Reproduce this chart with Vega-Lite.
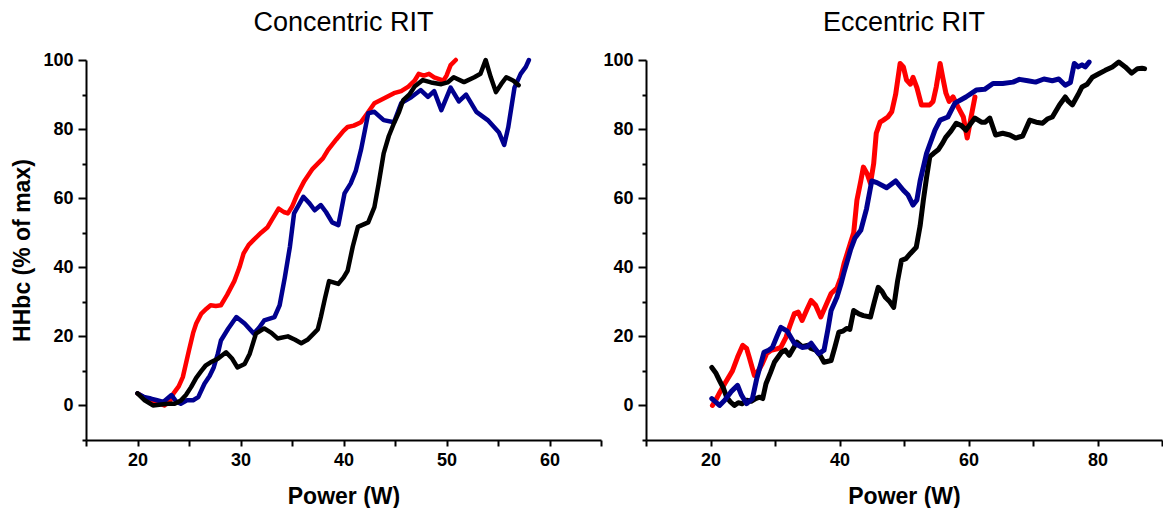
{
  "$schema": "https://vega.github.io/schema/vega-lite/v6.json",
  "padding": {"left": 11, "top": 9, "right": 0, "bottom": 0},
  "spacing": 0,
  "config": {
    "view": {"stroke": null},
    "font": "Liberation Sans",
    "axis": {
      "grid": false,
      "domainColor": "#000000",
      "domainWidth": 2,
      "tickColor": "#000000",
      "tickWidth": 2,
      "labelFont": "Liberation Sans",
      "labelFontWeight": "bold",
      "labelFontSize": 18,
      "labelColor": "#000000",
      "titleFont": "Liberation Sans",
      "titleFontWeight": "bold",
      "titleFontSize": 23,
      "titleColor": "#000000"
    },
    "title": {"font": "Liberation Sans", "fontSize": 27, "fontWeight": "normal", "color": "#000000", "offset": 14}
  },
  "datasets": {
    "pts": [
      {"panel":"C","series":"r","power":20.0,"hhbc":3.5},{"panel":"C","series":"r","power":20.8,"hhbc":2},{"panel":"C","series":"r","power":21.7,"hhbc":1},{"panel":"C","series":"r","power":22.6,"hhbc":0},{"panel":"C","series":"r","power":23.2,"hhbc":1.5},{"panel":"C","series":"r","power":23.5,"hhbc":3.5},{"panel":"C","series":"r","power":24.0,"hhbc":5.5},{"panel":"C","series":"r","power":24.4,"hhbc":8.2},{"panel":"C","series":"r","power":25.0,"hhbc":16},{"panel":"C","series":"r","power":25.4,"hhbc":21},{"panel":"C","series":"r","power":25.7,"hhbc":23.7},{"panel":"C","series":"r","power":26.2,"hhbc":26.6},{"panel":"C","series":"r","power":26.7,"hhbc":28},{"panel":"C","series":"r","power":27.1,"hhbc":29},{"panel":"C","series":"r","power":27.6,"hhbc":28.8},{"panel":"C","series":"r","power":28.1,"hhbc":29},{"panel":"C","series":"r","power":28.7,"hhbc":32},{"panel":"C","series":"r","power":29.4,"hhbc":36},{"panel":"C","series":"r","power":29.9,"hhbc":40},{"panel":"C","series":"r","power":30.3,"hhbc":44},{"panel":"C","series":"r","power":30.8,"hhbc":46.5},{"panel":"C","series":"r","power":31.3,"hhbc":48},{"panel":"C","series":"r","power":32.0,"hhbc":50},{"panel":"C","series":"r","power":32.6,"hhbc":51.5},{"panel":"C","series":"r","power":33.0,"hhbc":53.5},{"panel":"C","series":"r","power":33.7,"hhbc":57},{"panel":"C","series":"r","power":34.2,"hhbc":56},{"panel":"C","series":"r","power":34.6,"hhbc":55.6},{"panel":"C","series":"r","power":35.0,"hhbc":57.5},{"panel":"C","series":"r","power":35.5,"hhbc":61},{"panel":"C","series":"r","power":36.2,"hhbc":65},{"panel":"C","series":"r","power":37.0,"hhbc":68.5},{"panel":"C","series":"r","power":38.0,"hhbc":71.5},{"panel":"C","series":"r","power":38.5,"hhbc":74},{"panel":"C","series":"r","power":39.3,"hhbc":77},{"panel":"C","series":"r","power":40.0,"hhbc":79.5},{"panel":"C","series":"r","power":40.4,"hhbc":80.6},{"panel":"C","series":"r","power":41.0,"hhbc":81},{"panel":"C","series":"r","power":41.7,"hhbc":82},{"panel":"C","series":"r","power":42.3,"hhbc":84.5},{"panel":"C","series":"r","power":43.0,"hhbc":87.5},{"panel":"C","series":"r","power":44.0,"hhbc":89},{"panel":"C","series":"r","power":44.9,"hhbc":90.4},{"panel":"C","series":"r","power":45.6,"hhbc":91},{"panel":"C","series":"r","power":46.3,"hhbc":92.3},{"panel":"C","series":"r","power":46.9,"hhbc":94},{"panel":"C","series":"r","power":47.3,"hhbc":96},{"panel":"C","series":"r","power":47.8,"hhbc":95.5},{"panel":"C","series":"r","power":48.3,"hhbc":96},{"panel":"C","series":"r","power":48.8,"hhbc":95},{"panel":"C","series":"r","power":49.7,"hhbc":94},{"panel":"C","series":"r","power":50.0,"hhbc":95.5},{"panel":"C","series":"r","power":50.4,"hhbc":98.5},{"panel":"C","series":"r","power":50.9,"hhbc":100},
      {"panel":"C","series":"b","power":20.0,"hhbc":3.5},{"panel":"C","series":"b","power":20.6,"hhbc":2.5},{"panel":"C","series":"b","power":21.3,"hhbc":2},{"panel":"C","series":"b","power":21.9,"hhbc":1.5},{"panel":"C","series":"b","power":22.5,"hhbc":1},{"panel":"C","series":"b","power":23.3,"hhbc":3},{"panel":"C","series":"b","power":23.8,"hhbc":1},{"panel":"C","series":"b","power":24.2,"hhbc":0.5},{"panel":"C","series":"b","power":24.8,"hhbc":1.5},{"panel":"C","series":"b","power":25.4,"hhbc":1.5},{"panel":"C","series":"b","power":25.9,"hhbc":2.4},{"panel":"C","series":"b","power":26.5,"hhbc":6.3},{"panel":"C","series":"b","power":27.0,"hhbc":8.5},{"panel":"C","series":"b","power":27.4,"hhbc":11},{"panel":"C","series":"b","power":27.8,"hhbc":15},{"panel":"C","series":"b","power":28.1,"hhbc":18.8},{"panel":"C","series":"b","power":28.8,"hhbc":22.2},{"panel":"C","series":"b","power":29.6,"hhbc":25.6},{"panel":"C","series":"b","power":30.4,"hhbc":23.7},{"panel":"C","series":"b","power":31.3,"hhbc":20.8},{"panel":"C","series":"b","power":31.8,"hhbc":22.5},{"panel":"C","series":"b","power":32.3,"hhbc":24.6},{"panel":"C","series":"b","power":33.3,"hhbc":25.6},{"panel":"C","series":"b","power":33.8,"hhbc":29},{"panel":"C","series":"b","power":34.3,"hhbc":37},{"panel":"C","series":"b","power":34.8,"hhbc":46},{"panel":"C","series":"b","power":35.2,"hhbc":55.6},{"panel":"C","series":"b","power":36.1,"hhbc":60.4},{"panel":"C","series":"b","power":36.7,"hhbc":58.5},{"panel":"C","series":"b","power":37.2,"hhbc":56.5},{"panel":"C","series":"b","power":37.8,"hhbc":58},{"panel":"C","series":"b","power":38.3,"hhbc":56},{"panel":"C","series":"b","power":38.9,"hhbc":53},{"panel":"C","series":"b","power":39.5,"hhbc":52.2},{"panel":"C","series":"b","power":40.1,"hhbc":61.4},{"panel":"C","series":"b","power":40.7,"hhbc":64.3},{"panel":"C","series":"b","power":41.2,"hhbc":68},{"panel":"C","series":"b","power":41.7,"hhbc":74},{"panel":"C","series":"b","power":42.1,"hhbc":80},{"panel":"C","series":"b","power":42.4,"hhbc":84.6},{"panel":"C","series":"b","power":43.0,"hhbc":85},{"panel":"C","series":"b","power":43.9,"hhbc":82.6},{"panel":"C","series":"b","power":44.9,"hhbc":82},{"panel":"C","series":"b","power":45.6,"hhbc":87.5},{"panel":"C","series":"b","power":46.6,"hhbc":89.3},{"panel":"C","series":"b","power":47.5,"hhbc":91.3},{"panel":"C","series":"b","power":48.2,"hhbc":89.3},{"panel":"C","series":"b","power":48.8,"hhbc":91},{"panel":"C","series":"b","power":49.5,"hhbc":85.5},{"panel":"C","series":"b","power":50.4,"hhbc":92},{"panel":"C","series":"b","power":51.2,"hhbc":88},{"panel":"C","series":"b","power":51.9,"hhbc":90},{"panel":"C","series":"b","power":52.9,"hhbc":85},{"panel":"C","series":"b","power":54.0,"hhbc":82.6},{"panel":"C","series":"b","power":55.1,"hhbc":79},{"panel":"C","series":"b","power":55.6,"hhbc":75.4},{"panel":"C","series":"b","power":56.0,"hhbc":80.6},{"panel":"C","series":"b","power":56.6,"hhbc":92},{"panel":"C","series":"b","power":57.2,"hhbc":96},{"panel":"C","series":"b","power":57.7,"hhbc":98},{"panel":"C","series":"b","power":58.0,"hhbc":100},
      {"panel":"C","series":"k","power":20.0,"hhbc":3.5},{"panel":"C","series":"k","power":20.7,"hhbc":1.5},{"panel":"C","series":"k","power":21.5,"hhbc":0},{"panel":"C","series":"k","power":22.3,"hhbc":0.3},{"panel":"C","series":"k","power":23.0,"hhbc":0.5},{"panel":"C","series":"k","power":23.6,"hhbc":0.5},{"panel":"C","series":"k","power":24.2,"hhbc":1.4},{"panel":"C","series":"k","power":24.7,"hhbc":3},{"panel":"C","series":"k","power":25.2,"hhbc":5.3},{"panel":"C","series":"k","power":25.7,"hhbc":8},{"panel":"C","series":"k","power":26.2,"hhbc":10},{"panel":"C","series":"k","power":26.6,"hhbc":11.5},{"panel":"C","series":"k","power":27.1,"hhbc":12.5},{"panel":"C","series":"k","power":27.8,"hhbc":13.5},{"panel":"C","series":"k","power":28.6,"hhbc":15.4},{"panel":"C","series":"k","power":29.2,"hhbc":13.5},{"panel":"C","series":"k","power":29.7,"hhbc":11},{"panel":"C","series":"k","power":30.4,"hhbc":12},{"panel":"C","series":"k","power":30.9,"hhbc":15},{"panel":"C","series":"k","power":31.5,"hhbc":20.8},{"panel":"C","series":"k","power":32.3,"hhbc":22.3},{"panel":"C","series":"k","power":33.0,"hhbc":21},{"panel":"C","series":"k","power":33.6,"hhbc":19.4},{"panel":"C","series":"k","power":34.6,"hhbc":20},{"panel":"C","series":"k","power":35.3,"hhbc":19},{"panel":"C","series":"k","power":35.9,"hhbc":18},{"panel":"C","series":"k","power":36.5,"hhbc":19},{"panel":"C","series":"k","power":37.1,"hhbc":20.8},{"panel":"C","series":"k","power":37.5,"hhbc":22},{"panel":"C","series":"k","power":37.8,"hhbc":25.6},{"panel":"C","series":"k","power":38.2,"hhbc":31},{"panel":"C","series":"k","power":38.6,"hhbc":36},{"panel":"C","series":"k","power":39.5,"hhbc":35.2},{"panel":"C","series":"k","power":40.0,"hhbc":37},{"panel":"C","series":"k","power":40.4,"hhbc":39},{"panel":"C","series":"k","power":40.9,"hhbc":46},{"panel":"C","series":"k","power":41.4,"hhbc":51.7},{"panel":"C","series":"k","power":42.4,"hhbc":53},{"panel":"C","series":"k","power":43.0,"hhbc":57.4},{"panel":"C","series":"k","power":43.4,"hhbc":64},{"panel":"C","series":"k","power":43.9,"hhbc":73},{"panel":"C","series":"k","power":44.4,"hhbc":78},{"panel":"C","series":"k","power":44.9,"hhbc":81.7},{"panel":"C","series":"k","power":45.4,"hhbc":85},{"panel":"C","series":"k","power":45.8,"hhbc":88.4},{"panel":"C","series":"k","power":46.4,"hhbc":90},{"panel":"C","series":"k","power":46.9,"hhbc":92.3},{"panel":"C","series":"k","power":47.7,"hhbc":94.2},{"panel":"C","series":"k","power":48.5,"hhbc":93.5},{"panel":"C","series":"k","power":49.5,"hhbc":93},{"panel":"C","series":"k","power":50.1,"hhbc":93.5},{"panel":"C","series":"k","power":50.7,"hhbc":95},{"panel":"C","series":"k","power":51.7,"hhbc":93.6},{"panel":"C","series":"k","power":52.7,"hhbc":95},{"panel":"C","series":"k","power":53.3,"hhbc":96},{"panel":"C","series":"k","power":53.8,"hhbc":100},{"panel":"C","series":"k","power":54.3,"hhbc":95},{"panel":"C","series":"k","power":54.8,"hhbc":90.7},{"panel":"C","series":"k","power":55.3,"hhbc":93},{"panel":"C","series":"k","power":55.8,"hhbc":95},{"panel":"C","series":"k","power":56.5,"hhbc":94},{"panel":"C","series":"k","power":57.0,"hhbc":92.7},
      {"panel":"E","series":"r","power":20.3,"hhbc":0},{"panel":"E","series":"r","power":20.8,"hhbc":1.5},{"panel":"E","series":"r","power":21.5,"hhbc":4},{"panel":"E","series":"r","power":22.2,"hhbc":6.3},{"panel":"E","series":"r","power":23.4,"hhbc":10},{"panel":"E","series":"r","power":24.2,"hhbc":14},{"panel":"E","series":"r","power":25.0,"hhbc":17.4},{"panel":"E","series":"r","power":25.6,"hhbc":16.5},{"panel":"E","series":"r","power":26.0,"hhbc":14},{"panel":"E","series":"r","power":26.8,"hhbc":8.7},{"panel":"E","series":"r","power":27.4,"hhbc":10},{"panel":"E","series":"r","power":28.0,"hhbc":12},{"panel":"E","series":"r","power":28.7,"hhbc":15},{"panel":"E","series":"r","power":29.4,"hhbc":16},{"panel":"E","series":"r","power":30.2,"hhbc":16.3},{"panel":"E","series":"r","power":30.9,"hhbc":16.8},{"panel":"E","series":"r","power":31.7,"hhbc":19.7},{"panel":"E","series":"r","power":32.3,"hhbc":23},{"panel":"E","series":"r","power":33.0,"hhbc":26.6},{"panel":"E","series":"r","power":33.6,"hhbc":27},{"panel":"E","series":"r","power":34.2,"hhbc":24.6},{"panel":"E","series":"r","power":35.0,"hhbc":28},{"panel":"E","series":"r","power":35.6,"hhbc":30.4},{"panel":"E","series":"r","power":36.3,"hhbc":29},{"panel":"E","series":"r","power":37.1,"hhbc":25.6},{"panel":"E","series":"r","power":37.9,"hhbc":29},{"panel":"E","series":"r","power":38.7,"hhbc":32.4},{"panel":"E","series":"r","power":39.6,"hhbc":34},{"panel":"E","series":"r","power":40.2,"hhbc":37},{"panel":"E","series":"r","power":40.7,"hhbc":41},{"panel":"E","series":"r","power":41.7,"hhbc":47},{"panel":"E","series":"r","power":42.2,"hhbc":50},{"panel":"E","series":"r","power":42.7,"hhbc":59.4},{"panel":"E","series":"r","power":43.3,"hhbc":65},{"panel":"E","series":"r","power":43.7,"hhbc":69},{"panel":"E","series":"r","power":44.3,"hhbc":67},{"panel":"E","series":"r","power":44.8,"hhbc":64.3},{"panel":"E","series":"r","power":45.3,"hhbc":70},{"panel":"E","series":"r","power":45.7,"hhbc":78.8},{"panel":"E","series":"r","power":46.3,"hhbc":82},{"panel":"E","series":"r","power":46.8,"hhbc":82.6},{"panel":"E","series":"r","power":47.5,"hhbc":83.5},{"panel":"E","series":"r","power":48.1,"hhbc":85},{"panel":"E","series":"r","power":48.7,"hhbc":90},{"panel":"E","series":"r","power":49.4,"hhbc":99},{"panel":"E","series":"r","power":49.9,"hhbc":98},{"panel":"E","series":"r","power":50.4,"hhbc":94.2},{"panel":"E","series":"r","power":51.0,"hhbc":93},{"panel":"E","series":"r","power":51.4,"hhbc":95},{"panel":"E","series":"r","power":52.0,"hhbc":92},{"panel":"E","series":"r","power":52.7,"hhbc":87},{"panel":"E","series":"r","power":53.3,"hhbc":87},{"panel":"E","series":"r","power":54.0,"hhbc":87},{"panel":"E","series":"r","power":54.5,"hhbc":88},{"panel":"E","series":"r","power":55.0,"hhbc":92.2},{"panel":"E","series":"r","power":55.6,"hhbc":99},{"panel":"E","series":"r","power":56.0,"hhbc":95},{"panel":"E","series":"r","power":56.5,"hhbc":90.4},{"panel":"E","series":"r","power":57.0,"hhbc":88},{"panel":"E","series":"r","power":57.6,"hhbc":89.3},{"panel":"E","series":"r","power":58.2,"hhbc":87},{"panel":"E","series":"r","power":59.2,"hhbc":83.5},{"panel":"E","series":"r","power":59.8,"hhbc":77.4},{"panel":"E","series":"r","power":60.4,"hhbc":83.5},{"panel":"E","series":"r","power":61.0,"hhbc":89.3},
      {"panel":"E","series":"k","power":20.2,"hhbc":11},{"panel":"E","series":"k","power":20.8,"hhbc":9.5},{"panel":"E","series":"k","power":21.4,"hhbc":7.2},{"panel":"E","series":"k","power":22.0,"hhbc":5},{"panel":"E","series":"k","power":22.5,"hhbc":2.4},{"panel":"E","series":"k","power":23.1,"hhbc":1},{"panel":"E","series":"k","power":23.7,"hhbc":0},{"panel":"E","series":"k","power":24.3,"hhbc":0.8},{"panel":"E","series":"k","power":24.9,"hhbc":0.5},{"panel":"E","series":"k","power":25.6,"hhbc":1.5},{"panel":"E","series":"k","power":26.3,"hhbc":1.2},{"panel":"E","series":"k","power":27.0,"hhbc":2},{"panel":"E","series":"k","power":27.6,"hhbc":2.4},{"panel":"E","series":"k","power":28.1,"hhbc":2},{"panel":"E","series":"k","power":28.6,"hhbc":6.3},{"panel":"E","series":"k","power":29.3,"hhbc":9.5},{"panel":"E","series":"k","power":29.9,"hhbc":12.5},{"panel":"E","series":"k","power":31.0,"hhbc":15.4},{"panel":"E","series":"k","power":31.6,"hhbc":16},{"panel":"E","series":"k","power":32.2,"hhbc":14.5},{"panel":"E","series":"k","power":33.4,"hhbc":18.3},{"panel":"E","series":"k","power":34.2,"hhbc":17},{"panel":"E","series":"k","power":35.0,"hhbc":17.4},{"panel":"E","series":"k","power":35.6,"hhbc":16.5},{"panel":"E","series":"k","power":36.3,"hhbc":16},{"panel":"E","series":"k","power":37.0,"hhbc":14.5},{"panel":"E","series":"k","power":37.6,"hhbc":12.5},{"panel":"E","series":"k","power":38.7,"hhbc":13},{"panel":"E","series":"k","power":39.3,"hhbc":17},{"panel":"E","series":"k","power":39.9,"hhbc":21.2},{"panel":"E","series":"k","power":40.5,"hhbc":21.5},{"panel":"E","series":"k","power":41.1,"hhbc":22.3},{"panel":"E","series":"k","power":41.6,"hhbc":22},{"panel":"E","series":"k","power":42.2,"hhbc":27.5},{"panel":"E","series":"k","power":43.0,"hhbc":26.5},{"panel":"E","series":"k","power":43.7,"hhbc":26},{"panel":"E","series":"k","power":44.8,"hhbc":25.6},{"panel":"E","series":"k","power":45.4,"hhbc":30},{"panel":"E","series":"k","power":46.0,"hhbc":34.2},{"panel":"E","series":"k","power":46.6,"hhbc":33},{"panel":"E","series":"k","power":47.1,"hhbc":31.3},{"panel":"E","series":"k","power":47.8,"hhbc":30},{"panel":"E","series":"k","power":48.4,"hhbc":28.4},{"panel":"E","series":"k","power":49.0,"hhbc":36},{"panel":"E","series":"k","power":49.6,"hhbc":42},{"panel":"E","series":"k","power":50.3,"hhbc":42.5},{"panel":"E","series":"k","power":51.0,"hhbc":44},{"panel":"E","series":"k","power":51.9,"hhbc":45.8},{"panel":"E","series":"k","power":52.5,"hhbc":52},{"panel":"E","series":"k","power":53.0,"hhbc":59.4},{"panel":"E","series":"k","power":53.5,"hhbc":66},{"panel":"E","series":"k","power":54.0,"hhbc":72},{"panel":"E","series":"k","power":54.6,"hhbc":73},{"panel":"E","series":"k","power":55.3,"hhbc":74},{"panel":"E","series":"k","power":56.0,"hhbc":76},{"panel":"E","series":"k","power":56.5,"hhbc":77.7},{"panel":"E","series":"k","power":57.3,"hhbc":79.5},{"panel":"E","series":"k","power":58.1,"hhbc":81.7},{"panel":"E","series":"k","power":58.9,"hhbc":81},{"panel":"E","series":"k","power":59.6,"hhbc":79.7},{"panel":"E","series":"k","power":60.3,"hhbc":81.5},{"panel":"E","series":"k","power":61.0,"hhbc":83.2},{"panel":"E","series":"k","power":62.0,"hhbc":82},{"panel":"E","series":"k","power":62.6,"hhbc":82},{"panel":"E","series":"k","power":63.3,"hhbc":83.2},{"panel":"E","series":"k","power":64.2,"hhbc":78.3},{"panel":"E","series":"k","power":65.3,"hhbc":78.8},{"panel":"E","series":"k","power":66.4,"hhbc":78.3},{"panel":"E","series":"k","power":67.3,"hhbc":77.4},{"panel":"E","series":"k","power":68.4,"hhbc":78},{"panel":"E","series":"k","power":69.5,"hhbc":82.6},{"panel":"E","series":"k","power":70.5,"hhbc":82},{"panel":"E","series":"k","power":71.5,"hhbc":81.7},{"panel":"E","series":"k","power":72.3,"hhbc":83},{"panel":"E","series":"k","power":73.0,"hhbc":83.5},{"panel":"E","series":"k","power":74.1,"hhbc":87},{"panel":"E","series":"k","power":75.0,"hhbc":89.3},{"panel":"E","series":"k","power":75.5,"hhbc":88},{"panel":"E","series":"k","power":76.1,"hhbc":87},{"panel":"E","series":"k","power":77.0,"hhbc":90},{"panel":"E","series":"k","power":77.6,"hhbc":92.2},{"panel":"E","series":"k","power":78.4,"hhbc":93},{"panel":"E","series":"k","power":79.2,"hhbc":95},{"panel":"E","series":"k","power":80.2,"hhbc":96},{"panel":"E","series":"k","power":81.2,"hhbc":97},{"panel":"E","series":"k","power":82.3,"hhbc":98},{"panel":"E","series":"k","power":83.3,"hhbc":99.4},{"panel":"E","series":"k","power":84.3,"hhbc":98},{"panel":"E","series":"k","power":85.3,"hhbc":96.2},{"panel":"E","series":"k","power":86.2,"hhbc":97.5},{"panel":"E","series":"k","power":86.9,"hhbc":97.6},{"panel":"E","series":"k","power":87.3,"hhbc":97.5},
      {"panel":"E","series":"b","power":20.2,"hhbc":2},{"panel":"E","series":"b","power":20.8,"hhbc":1},{"panel":"E","series":"b","power":21.4,"hhbc":0},{"panel":"E","series":"b","power":22.2,"hhbc":1.5},{"panel":"E","series":"b","power":23.2,"hhbc":4},{"panel":"E","series":"b","power":24.2,"hhbc":5.8},{"panel":"E","series":"b","power":24.8,"hhbc":3},{"panel":"E","series":"b","power":25.6,"hhbc":0.5},{"panel":"E","series":"b","power":26.5,"hhbc":2},{"panel":"E","series":"b","power":27.2,"hhbc":8},{"panel":"E","series":"b","power":28.3,"hhbc":15.4},{"panel":"E","series":"b","power":29.0,"hhbc":16},{"panel":"E","series":"b","power":29.6,"hhbc":16.8},{"panel":"E","series":"b","power":30.3,"hhbc":20},{"panel":"E","series":"b","power":30.9,"hhbc":22.6},{"panel":"E","series":"b","power":31.9,"hhbc":21.5},{"panel":"E","series":"b","power":33.0,"hhbc":18},{"panel":"E","series":"b","power":34.2,"hhbc":16.8},{"panel":"E","series":"b","power":35.0,"hhbc":17},{"panel":"E","series":"b","power":35.6,"hhbc":18},{"panel":"E","series":"b","power":36.2,"hhbc":16.5},{"panel":"E","series":"b","power":36.8,"hhbc":15},{"panel":"E","series":"b","power":37.6,"hhbc":16},{"panel":"E","series":"b","power":38.2,"hhbc":22},{"panel":"E","series":"b","power":38.7,"hhbc":27.5},{"panel":"E","series":"b","power":39.6,"hhbc":31.3},{"panel":"E","series":"b","power":40.2,"hhbc":35},{"panel":"E","series":"b","power":40.7,"hhbc":38.5},{"panel":"E","series":"b","power":41.7,"hhbc":45},{"panel":"E","series":"b","power":42.4,"hhbc":48.5},{"panel":"E","series":"b","power":43.3,"hhbc":50.7},{"panel":"E","series":"b","power":44.2,"hhbc":57},{"panel":"E","series":"b","power":45.0,"hhbc":65},{"panel":"E","series":"b","power":45.8,"hhbc":64.5},{"panel":"E","series":"b","power":47.3,"hhbc":63},{"panel":"E","series":"b","power":48.7,"hhbc":65},{"panel":"E","series":"b","power":49.9,"hhbc":62.3},{"panel":"E","series":"b","power":50.6,"hhbc":61},{"panel":"E","series":"b","power":51.4,"hhbc":58},{"panel":"E","series":"b","power":52.0,"hhbc":59.5},{"panel":"E","series":"b","power":52.5,"hhbc":65},{"panel":"E","series":"b","power":53.5,"hhbc":73},{"panel":"E","series":"b","power":54.8,"hhbc":79.7},{"panel":"E","series":"b","power":55.6,"hhbc":82.6},{"panel":"E","series":"b","power":56.8,"hhbc":83.5},{"panel":"E","series":"b","power":57.9,"hhbc":87.5},{"panel":"E","series":"b","power":59.6,"hhbc":89.3},{"panel":"E","series":"b","power":61.2,"hhbc":91.3},{"panel":"E","series":"b","power":62.5,"hhbc":91.5},{"panel":"E","series":"b","power":63.8,"hhbc":93.2},{"panel":"E","series":"b","power":65.3,"hhbc":93.2},{"panel":"E","series":"b","power":66.9,"hhbc":93.6},{"panel":"E","series":"b","power":67.9,"hhbc":94.4},{"panel":"E","series":"b","power":69.2,"hhbc":94},{"panel":"E","series":"b","power":70.4,"hhbc":93.6},{"panel":"E","series":"b","power":71.7,"hhbc":94.5},{"panel":"E","series":"b","power":73.0,"hhbc":94},{"panel":"E","series":"b","power":74.0,"hhbc":94.5},{"panel":"E","series":"b","power":75.0,"hhbc":92.7},{"panel":"E","series":"b","power":75.8,"hhbc":93.5},{"panel":"E","series":"b","power":76.4,"hhbc":99},{"panel":"E","series":"b","power":77.0,"hhbc":98},{"panel":"E","series":"b","power":77.6,"hhbc":98.6},{"panel":"E","series":"b","power":78.1,"hhbc":98},{"panel":"E","series":"b","power":78.7,"hhbc":99.4}
    ]
  },
  "data": {"name": "pts"},
  "hconcat": [
    {
      "width": 515,
      "height": 380,
      "title": {"text": "Concentric RIT"},
      "transform": [{"filter": "datum.panel == 'C'"}],
      "mark": {"type": "line", "strokeWidth": 4.5, "strokeJoin": "round", "strokeCap": "round"},
      "encoding": {
        "x": {
          "field": "power", "type": "quantitative",
          "scale": {"domain": [15, 65], "nice": false, "zero": false},
          "axis": {
            "title": "Power (W)",
            "titlePadding": 16,
            "values": [15, 20, 25, 30, 35, 40, 45, 50, 55, 60, 65],
            "labelExpr": "datum.value % 10 == 0 ? datum.label : ''",
            "tickSize": 6,
            "labelPadding": 5
          }
        },
        "y": {
          "field": "hhbc", "type": "quantitative",
          "scale": {"domain": [-10, 100], "nice": false, "zero": false},
          "axis": {
            "title": "HHbc (% of max)",
            "titlePadding": 8,
            "values": [-10, 0, 10, 20, 30, 40, 50, 60, 70, 80, 90, 100],
            "labelExpr": "datum.value % 20 == 0 && datum.value >= 0 ? datum.label : ''",
            "tickSize": {"condition": {"test": "datum.value % 20 == 0", "value": 8}, "value": 4},
            "labelPadding": 5
          }
        },
        "color": {
          "field": "series", "type": "nominal",
          "scale": {"domain": ["r", "b", "k"], "range": ["#ff0000", "#00008f", "#000000"]},
          "legend": null
        }
      }
    },
    {
      "width": 516,
      "height": 380,
      "title": {"text": "Eccentric RIT"},
      "transform": [{"filter": "datum.panel == 'E'"}],
      "mark": {"type": "line", "strokeWidth": 5, "strokeJoin": "round", "strokeCap": "round"},
      "encoding": {
        "x": {
          "field": "power", "type": "quantitative",
          "scale": {"domain": [10, 90], "nice": false, "zero": false},
          "axis": {
            "title": "Power (W)",
            "titlePadding": 16,
            "values": [10, 20, 30, 40, 50, 60, 70, 80, 90],
            "labelExpr": "datum.value % 20 == 0 ? datum.label : ''",
            "tickSize": 6,
            "labelPadding": 5
          }
        },
        "y": {
          "field": "hhbc", "type": "quantitative",
          "scale": {"domain": [-10, 100], "nice": false, "zero": false},
          "axis": {
            "title": null,
            "values": [-10, 0, 10, 20, 30, 40, 50, 60, 70, 80, 90, 100],
            "labelExpr": "datum.value % 20 == 0 && datum.value >= 0 ? datum.label : ''",
            "tickSize": {"condition": {"test": "datum.value % 20 == 0", "value": 8}, "value": 4},
            "labelPadding": 5
          }
        },
        "color": {
          "field": "series", "type": "nominal",
          "scale": {"domain": ["r", "k", "b"], "range": ["#ff0000", "#000000", "#0000b0"]},
          "legend": null
        }
      }
    }
  ]
}
